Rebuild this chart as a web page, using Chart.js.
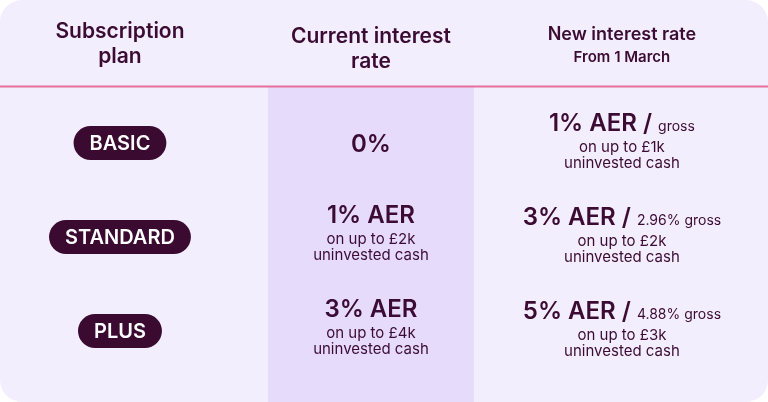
<!DOCTYPE html>
<html lang="en">
<head>
<meta charset="utf-8">
<title>Subscription plan interest rates</title>
<style>
  html, body { margin: 0; padding: 0; background: #ffffff; }
  #wrap { width: 768px; height: 402px; border-radius: 22px; overflow: hidden; background: #f3eefd; }
</style>
</head>
<body>
<div id="wrap"><canvas id="chart" width="768" height="402"></canvas></div>
<script src="https://cdn.jsdelivr.net/npm/chart.js"></script>
<script>
const headers = [["Subscription", "plan"], ["Current interest", "rate"], ["New interest rate", "From 1 March"]];
const plans = ["BASIC", "STANDARD", "PLUS"];
const currentRates = ["0%", "1% AER", "3% AER"];
const currentLimits = ["", "£2k", "£4k"];
const newRates = ["1% AER", "3% AER", "5% AER"];
const newGross = ["gross", "2.96% gross", "4.88% gross"];
const newLimits = ["£1k", "£2k", "£3k"];

const ink = "#3b0b33";
const font = "Inter, 'Open Sans', sans-serif";

const tablePlugin = {
  id: "table",
  beforeDatasetsDraw(chart) {
    const { ctx, scales: { x, y } } = chart;
    const ruleY = y.getPixelForValue(-0.6);
    // highlighted middle column
    ctx.fillStyle = "#e6dbfb";
    const l = x.getPixelForValue(0.59), r = x.getPixelForValue(1.41);
    ctx.fillRect(l, ruleY, r - l, chart.height);
    // header rule
    ctx.strokeStyle = "#e86e9c";
    ctx.lineWidth = 2;
    ctx.beginPath();
    ctx.moveTo(0, ruleY);
    ctx.lineTo(chart.width, ruleY);
    ctx.stroke();
  },
  afterDatasetsDraw(chart) {
    const { ctx, scales: { x, y } } = chart;
    ctx.textAlign = "center";
    ctx.textBaseline = "middle";
    ctx.fillStyle = ink;

    // headers
    const hy = y.getPixelForValue(-1);
    ctx.font = "600 21px " + font;
    ctx.fillText(headers[0][0], x.getPixelForValue(0), hy - 17);
    ctx.fillText(headers[0][1], x.getPixelForValue(0), hy + 8);
    ctx.fillText(headers[1][0], x.getPixelForValue(1), hy - 12);
    ctx.fillText(headers[1][1], x.getPixelForValue(1), hy + 13);
    ctx.font = "600 18px " + font;
    ctx.fillText(headers[2][0], x.getPixelForValue(2), hy - 14);
    ctx.font = "600 15px " + font;
    ctx.fillText(headers[2][1], x.getPixelForValue(2), hy + 9);

    plans.forEach((p, i) => {
      const cy = y.getPixelForValue(i);
      // pill
      ctx.font = "600 20px " + font;
      const w = ctx.measureText(p).width + 32, h = 34;
      const cx = x.getPixelForValue(0);
      ctx.fillStyle = "#3a0a30";
      ctx.beginPath();
      ctx.roundRect(cx - w / 2, cy - h / 2, w, h, h / 2);
      ctx.fill();
      ctx.fillStyle = "#ffffff";
      ctx.fillText(p, cx, cy + 1);
      ctx.fillStyle = ink;

      // current rate
      const c1 = x.getPixelForValue(1);
      ctx.font = "600 24px " + font;
      if (currentLimits[i]) {
        ctx.fillText(currentRates[i], c1, cy - 21);
        ctx.font = "15px " + font;
        ctx.fillText("on up to " + currentLimits[i], c1, cy + 3);
        ctx.fillText("uninvested cash", c1, cy + 19);
      } else {
        ctx.fillText(currentRates[i], c1, cy + 2);
      }

      // new rate
      const c2 = x.getPixelForValue(2);
      const main = newRates[i] + " / ";
      ctx.font = "600 24px " + font;
      const mw = ctx.measureText(main).width;
      ctx.font = "14px " + font;
      const gw = ctx.measureText(newGross[i]).width;
      const start = c2 - (mw + gw) / 2;
      ctx.textAlign = "left";
      ctx.font = "600 24px " + font;
      ctx.fillText(main, start, cy - 19);
      ctx.font = "14px " + font;
      ctx.fillText(newGross[i], start + mw, cy - 16);
      ctx.textAlign = "center";
      ctx.font = "15px " + font;
      ctx.fillText("on up to " + newLimits[i], c2, cy + 5);
      ctx.fillText("uninvested cash", c2, cy + 21);
    });
  }
};

new Chart(document.getElementById("chart"), {
  type: "scatter",
  data: {
    datasets: [{
      data: plans.map((p, i) => ({ x: 0, y: i })),
      pointRadius: 0
    }]
  },
  options: {
    responsive: false,
    animation: false,
    layout: { padding: 0 },
    plugins: { legend: { display: false }, tooltip: { enabled: false } },
    scales: {
      x: { type: "linear", min: -0.478, max: 2.582, display: false },
      y: { type: "linear", min: -1.521, max: 2.756, reverse: true, display: false }
    }
  },
  plugins: [tablePlugin]
});
</script>
</body>
</html>
